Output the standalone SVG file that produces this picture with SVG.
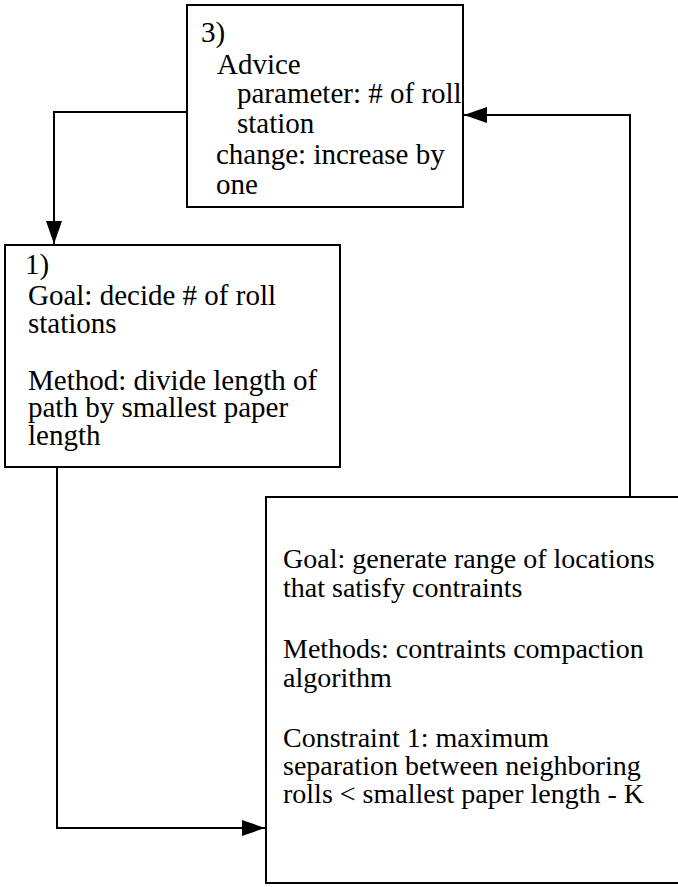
<svg xmlns="http://www.w3.org/2000/svg" width="678" height="887" viewBox="0 0 678 887">
  <style>
    .box { fill: #ffffff; stroke: #000000; stroke-width: 2; }
    .wire { fill: none; stroke: #000000; stroke-width: 2; }
    text { font-family: "Liberation Serif", "Times New Roman", serif; font-size: 28px; fill: #000000; }
    .big text { font-size: 29px; }
  </style>
  <defs>
    <marker id="arrow" markerUnits="userSpaceOnUse" markerWidth="24" markerHeight="16" refX="23" refY="8" orient="auto">
      <path d="M0,0 L23,8 L0,16 Z" fill="#000000"/>
    </marker>
  </defs>

  <g id="connectors">
    <path class="wire" d="M187,112 H54 V244" marker-end="url(#arrow)"/>
    <path class="wire" d="M57,467 V828 H265" marker-end="url(#arrow)"/>
    <path class="wire" d="M630,497 V115 H464" marker-end="url(#arrow)"/>
  </g>

  <g id="node-advice" class="big">
    <rect class="box" x="187" y="5" width="276" height="202"/>
    <text x="201" y="42">3)</text>
    <text x="217" y="74">Advice</text>
    <text x="237" y="103">parameter: # of roll</text>
    <text x="237" y="133">station</text>
    <text x="216" y="164">change: increase by</text>
    <text x="216" y="194">one</text>
  </g>

  <g id="node-goal" class="big">
    <rect class="box" x="5" y="245" width="335" height="222"/>
    <text x="25" y="274">1)</text>
    <text x="28" y="305">Goal: decide # of roll</text>
    <text x="28" y="333">stations</text>
    <text x="28" y="390">Method: divide length of</text>
    <text x="28" y="417">path by smallest paper</text>
    <text x="28" y="445">length</text>
  </g>

  <g id="node-locations">
    <rect class="box" x="266" y="497" width="420" height="386"/>
    <text x="283" y="568">Goal: generate range of locations</text>
    <text x="283" y="597">that satisfy contraints</text>
    <text x="283" y="658">Methods: contraints compaction</text>
    <text x="283" y="687">algorithm</text>
    <text x="283" y="747">Constraint 1: maximum</text>
    <text x="283" y="775">separation between neighboring</text>
    <text x="283" y="803">rolls &lt; smallest paper length - K</text>
  </g>
</svg>
